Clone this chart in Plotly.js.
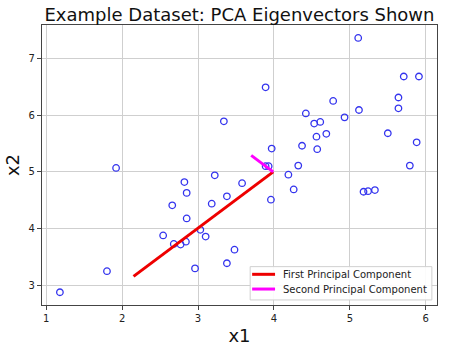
<!DOCTYPE html>
<html><head><meta charset="utf-8">
<script src="https://cdn.plot.ly/plotly-3.0.1.min.js"></script>
<style>html,body{margin:0;padding:0;background:#fff}#chart{width:465px;height:346px}</style>
</head><body><div id="chart"></div>
<script>
const x1 = [3.38,4.53,2.66,2.77,2.85,3.89,3.48,5.91,3.93,4.56,4.57,4.37,4.19,5.24,2.84,5.64,4.69,2.85,5.11,5.18,5.71,3.58,5.64,4.26,2.54,3.22,4.93,5.79,2.82,3.89,3.34,5.88,3.10,5.33,3.38,4.78,2.68,5.50,1.80,4.32,4.42,3.18,3.03,4.61,2.96,3.97,1.18,1.92,3.96,5.12];
const x2 = [3.39,5.85,4.41,3.72,4.18,6.49,3.63,6.68,5.10,5.62,5.40,5.46,4.95,4.66,3.77,6.31,5.67,4.63,7.36,4.65,6.68,4.80,6.12,4.69,3.88,4.94,5.96,5.11,4.82,5.10,5.89,5.52,3.86,4.68,4.57,6.25,3.73,5.68,3.25,5.11,6.03,4.44,3.98,5.88,3.30,5.41,2.88,5.07,4.51,6.09];
const pc1X = [3.99, 2.15];
const pc1Y = [5.00, 3.16];
const pc2X = [3.99, 3.70];
const pc2Y = [5.00, 5.29];
const legendNames = ["First Principal Component", "Second Principal Component"];

const RED = '#ee0000', MAG = '#ff00ff', BLUE = '#3333ee';

const traces = [
  {x: x1, y: x2, type: 'scatter', mode: 'markers', showlegend: false,
   marker: {symbol: 'circle-open', size: 6.5, color: BLUE, line: {width: 1.3, color: BLUE}}},
  {x: pc1X, y: pc1Y, type: 'scatter', mode: 'lines', name: legendNames[0], showlegend: false,
   line: {color: RED, width: 3}},
  {x: pc2X, y: pc2Y, type: 'scatter', mode: 'lines', name: legendNames[1], showlegend: false,
   line: {color: MAG, width: 3}}
];

const axisCommon = {
  showgrid: true, gridcolor: '#cfcfcf', gridwidth: 1,
  zeroline: false, showline: true, mirror: true, linecolor: '#444', linewidth: 1.2,
  ticks: 'outside', ticklen: 4, tickcolor: '#444', tickwidth: 1,
  tickfont: {family: 'DejaVu Sans', size: 10, color: '#222'}
};

// hand-built compact legend (matplotlib style)
const legRows = [0.1096, 0.057];
const legColors = [RED, MAG];
const shapes = [
  {type: 'rect', xref: 'paper', yref: 'paper', x0: 0.527, x1: 0.987, y0: 0.018, y1: 0.137,
   fillcolor: 'rgba(255,255,255,0.92)', line: {color: '#d0d0d0', width: 1}, layer: 'above'}
];
const annotations = [];
legendNames.forEach((name, i) => {
  shapes.push({type: 'line', xref: 'paper', yref: 'paper', x0: 0.532, x1: 0.590, y0: legRows[i], y1: legRows[i],
    line: {color: legColors[i], width: 3}});
  annotations.push({xref: 'paper', yref: 'paper', x: 0.606, y: legRows[i], xanchor: 'left', yanchor: 'middle',
    text: name, showarrow: false, font: {family: 'DejaVu Sans', size: 10, color: '#222'}});
});

const layout = {
  width: 465, height: 346,
  margin: {l: 42, r: 28, t: 25, b: 41},
  paper_bgcolor: '#fff', plot_bgcolor: '#fff',
  title: {text: 'Example Dataset: PCA Eigenvectors Shown', font: {family: 'DejaVu Sans', size: 18, color: '#111'},
          x: 0.515, xanchor: 'center', yref: 'paper', y: 1, yanchor: 'bottom', pad: {b: 4}},
  xaxis: Object.assign({}, axisCommon, {range: [0.944, 6.148], tick0: 1, dtick: 1,
    title: {text: 'x1', font: {family: 'DejaVu Sans', size: 18, color: '#111'}, standoff: 6}}),
  yaxis: Object.assign({}, axisCommon, {range: [2.655, 7.587], tick0: 3, dtick: 1,
    title: {text: 'x2', font: {family: 'DejaVu Sans', size: 18, color: '#111'}, standoff: 4}}),
  shapes: shapes,
  annotations: annotations,
  showlegend: false
};

Plotly.newPlot('chart', traces, layout, {staticPlot: true, displayModeBar: false});
</script></body></html>
